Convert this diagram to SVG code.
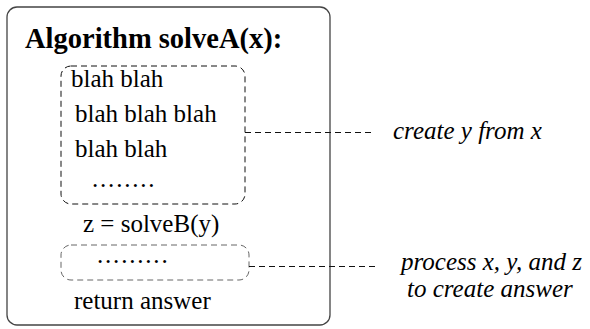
<svg xmlns="http://www.w3.org/2000/svg" width="590" height="329" viewBox="0 0 590 329">
<style>
.t{font-family:'Liberation Serif','Times New Roman',serif;font-size:25px;fill:#000}
.b{font-weight:bold;font-size:28.5px}
.i{font-style:italic}
.dots{letter-spacing:1.8px}
.frame{fill:#fff;stroke:#444;stroke-width:1.3}
.box{fill:none;stroke:#111;stroke-width:1;stroke-dasharray:6 4}
.box2{fill:none;stroke:#666;stroke-width:1;stroke-dasharray:6 4}
.conn{fill:none;stroke:#111;stroke-width:1;stroke-dasharray:6 4}
</style>
<rect width="590" height="329" fill="#fff"/>
<g id="algorithm">
<rect class="frame" x="7" y="7" width="323" height="318" rx="10"/>
<text class="t b" x="25" y="48">Algorithm solveA(x):</text>
</g>
<g id="block-create">
<rect class="box" x="61" y="66" width="184" height="138" rx="10"/>
<text class="t" x="71" y="87">blah blah</text>
<text class="t" x="75" y="122">blah blah blah</text>
<text class="t" x="75" y="157">blah blah</text>
<text class="t dots" x="92" y="187">........</text>
</g>
<g id="call">
<text class="t" x="83" y="232">z = solveB(y)</text>
</g>
<g id="block-process">
<rect class="box2" x="61" y="245" width="188" height="35" rx="10"/>
<text class="t dots" x="97" y="263">.........</text>
</g>
<g id="return">
<text class="t" x="74" y="309">return answer</text>
</g>
<g id="label-create">
<text class="t i" x="393" y="139">create y from x</text>
</g>
<g id="label-process">
<text class="t i" x="401" y="270">process x, y, and z</text>
<text class="t i" x="407" y="297">to create answer</text>
</g>
<g id="connectors">
<line class="conn" x1="245" y1="132.5" x2="375" y2="132.5"/>
<line class="conn" x1="249" y1="266.5" x2="379" y2="266.5"/>
</g>
</svg>
